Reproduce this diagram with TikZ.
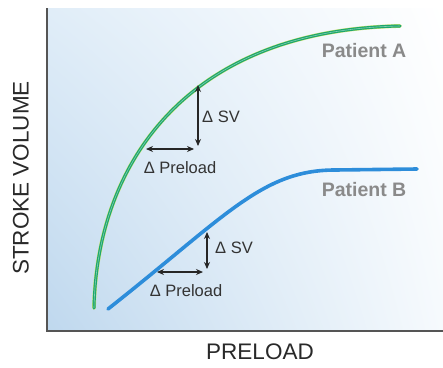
\documentclass[tikz,border=0pt]{standalone}
\usepackage{fontspec}
\setmainfont{Liberation Sans}
\usetikzlibrary{arrows.meta,shadings}
\definecolor{axisgray}{HTML}{555555}
\definecolor{labgray}{HTML}{8A8A8A}
\definecolor{txtdark}{HTML}{333333}
\definecolor{greenA}{HTML}{1CA66E}
\definecolor{greenEdge}{HTML}{CFE36A}
\definecolor{blueB}{HTML}{2D8DDA}
\definecolor{bgUL}{HTML}{E0EDF8}
\definecolor{bgLL}{HTML}{BFD8EE}
\definecolor{bgLR}{HTML}{F6FAFD}
\begin{document}
\begin{tikzpicture}[x=1pt,y=-1pt,
  axisline/.style={draw=axisgray,line width=1.3pt},
  deltaarrow/.style={draw=black!85,line width=1.1pt,{Stealth[length=7pt,width=6pt]}-{Stealth[length=7pt,width=6pt]}},
  deltatext/.style={text=txtdark,inner sep=0pt,font=\fontsize{16.5}{17}\selectfont},
  patient/.style={text=labgray,inner sep=0pt,font=\fontsize{19.5}{20}\selectfont\bfseries},
  axistext/.style={text=txtdark!80!black,inner sep=0pt,font=\fontsize{22.5}{23}\selectfont}]
\useasboundingbox (0,0) rectangle (443,367);
\fill[white] (0,0) rectangle (443,367);
% background shading
\shade[upper left=bgUL,lower left=bgLL,lower right=bgLR,upper right=white] (47,8) rectangle (443,331);
% axes
\coordinate (top) at (47,8);
\coordinate (origin) at (47,331);
\coordinate (xend) at (443,331);
\draw[axisline] (top) -- (origin) -- (xend);
% curve A
\def\curveA{(94,308) .. controls (97,160) and (190,30) .. (400,26)}
\draw[greenEdge,line width=3.8pt,line cap=round] \curveA;
\draw[greenA,line width=3pt,line cap=round] \curveA;
\draw[greenA!55!white,line width=0.6pt] \curveA;
% curve B
\draw[blueB,line width=3.6pt,line cap=round] (108,309) .. controls (226,216) and (262,170) .. (335,170) -- (417,169);
% delta arrows A
\coordinate (aSVtop) at (198,85);
\coordinate (aSVbot) at (198,146);
\coordinate (aPLl) at (146,149);
\coordinate (aPLr) at (194,149);
\draw[deltaarrow] (aSVtop) -- (aSVbot);
\draw[deltaarrow] (aPLl) -- (aPLr);
\node[deltatext,anchor=west] (aSV) at (202,117) {Δ SV};
\node[deltatext] (aPL) at (180,168) {Δ Preload};
% delta arrows B
\coordinate (bSVtop) at (207,232);
\coordinate (bSVbot) at (207,269);
\coordinate (bPLl) at (157,272);
\coordinate (bPLr) at (203,272);
\draw[deltaarrow] (bSVtop) -- (bSVbot);
\draw[deltaarrow] (bPLl) -- (bPLr);
\node[deltatext,anchor=west] (bSV) at (215,248) {Δ SV};
\node[deltatext] (bPL) at (186,291) {Δ Preload};
% patient labels
\node[patient] (pA) at (364,51) {Patient A};
\node[patient] (pB) at (364,190) {Patient B};
% axis titles
\node[axistext,rotate=90] (ylab) at (21,178) {STROKE VOLUME};
\node[axistext] (xlab) at (260,352) {PRELOAD};
\end{tikzpicture}
\end{document}
